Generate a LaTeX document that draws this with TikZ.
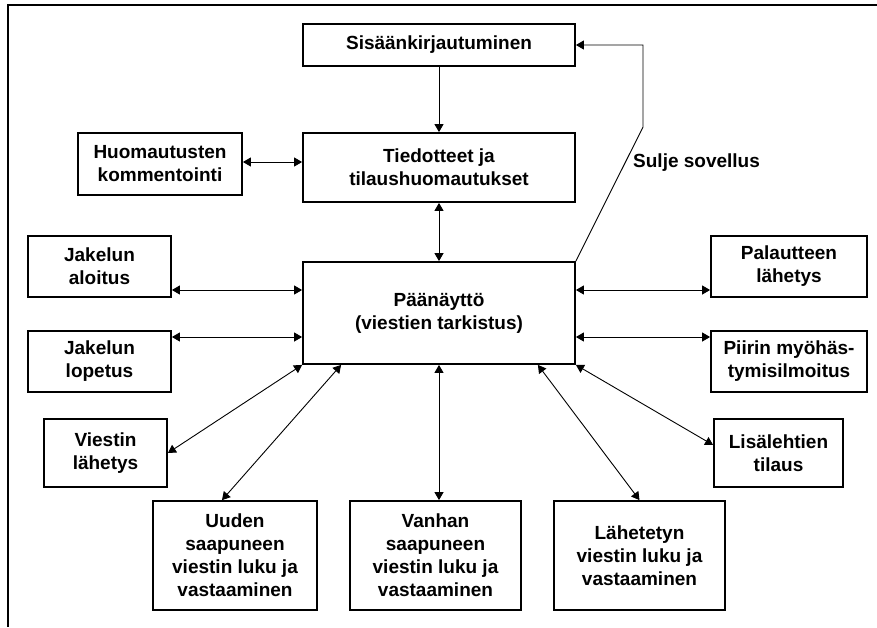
\documentclass[tikz,border=0pt]{standalone}
\usepackage{fontspec}
\setmainfont{Liberation Sans}
\usetikzlibrary{arrows.meta}
\begin{document}
\begin{tikzpicture}[x=1pt,y=-1pt,
  box/.style={draw,line width=1.8pt,rectangle,inner sep=0pt,align=center,
    font=\fontsize{19}{23}\selectfont\bfseries},
  link/.style={line width=0.9pt,draw=black},
  tip/.style={-{Triangle[length=8pt,width=9pt]}},
  both/.style={{Triangle[length=8pt,width=9pt]}-{Triangle[length=8pt,width=9pt]}},
  frame/.style={line width=1.8pt}]
\useasboundingbox (0,0) rectangle (877,627);

% open frame: top and left edges
\draw[frame] (877,5) -- (8,5) -- (8,627);

% boxes
\node[box,minimum width=272pt,minimum height=42pt] (login) at (439,45) {Sisäänkirjautuminen};
\node[box,minimum width=272pt,minimum height=69pt] (tied) at (439,167.5) {Tiedotteet ja\\tilaushuomautukset};
\node[box,minimum width=164pt,minimum height=62pt] (huom) at (160,164) {Huomautusten\\kommentointi};
\node[box,minimum width=272pt,minimum height=102pt] (main) at (439,313) {Päänäyttö\\(viestien tarkistus)};
\node[box,minimum width=143pt,minimum height=61pt] (jakA) at (99.5,266.5) {Jakelun\\aloitus};
\node[box,minimum width=143pt,minimum height=61pt] (jakL) at (99.5,361.5) {Jakelun\\lopetus};
\node[box,minimum width=156pt,minimum height=61pt] (pal) at (789,266.5) {Palautteen\\lähetys};
\node[box,minimum width=156pt,minimum height=61pt] (piiri) at (789,361.5) {Piirin myöhäs-\\tymisilmoitus};
\node[box,minimum width=123pt,minimum height=68pt] (viest) at (105.5,453) {Viestin\\lähetys};
\node[box,minimum width=129pt,minimum height=68pt] (lisa) at (778.5,453) {Lisälehtien\\tilaus};
\node[box,minimum width=164pt,minimum height=109pt] (uuden) at (235,555.5) {Uuden\\saapuneen\\viestin luku ja\\vastaaminen};
\node[box,minimum width=171pt,minimum height=109pt] (vanhan) at (435.5,555.5) {Vanhan\\saapuneen\\viestin luku ja\\vastaaminen};
\node[box,minimum width=171pt,minimum height=109pt] (lahet) at (639.5,555.5) {Lähetetyn\\viestin luku ja\\vastaaminen};

% label on the exit path
\node[anchor=west,inner sep=0pt,font=\fontsize{19}{23}\selectfont\bfseries] (sulje) at (633,163) {Sulje sovellus};

% exit path back to login
\coordinate (bend) at (643,127);
\coordinate (top) at (643,45);
\draw[link,tip] (main.north east) -- (bend) -- (top) -- (login.east);

% vertical chain
\draw[link,tip] (login.south) -- (tied.north);
\draw[link,both] (tied.south) -- (main.north);
\draw[link,both] ([yshift=2pt]huom.east) -- ([yshift=2pt]huom.east -| tied.west);

% left side
\draw[link,both] ([yshift=-23.5pt]jakA.east) -- ([yshift=-23.5pt]jakA.east -| main.west);
\draw[link,both] ([yshift=24.5pt]jakL.east) -- ([yshift=24.5pt]jakL.east -| main.west);

% right side
\draw[link,both] ([yshift=-23.5pt]pal.west) -- ([yshift=-23.5pt]pal.west -| main.east);
\draw[link,both] ([yshift=24.5pt]piiri.west) -- ([yshift=24.5pt]piiri.west -| main.east);

% lower fan
\draw[link,both] (viest.east) -- (main.south west);
\draw[link,both] ([xshift=-13pt]uuden.north) -- ([xshift=39pt]main.south west);
\draw[link,both] (main.south |- vanhan.north) -- (main.south);
\draw[link,both] (lahet.north) -- ([xshift=-38pt]main.south east);
\draw[link,both] ([yshift=8pt]lisa.west) -- (main.south east);
\end{tikzpicture}
\end{document}
